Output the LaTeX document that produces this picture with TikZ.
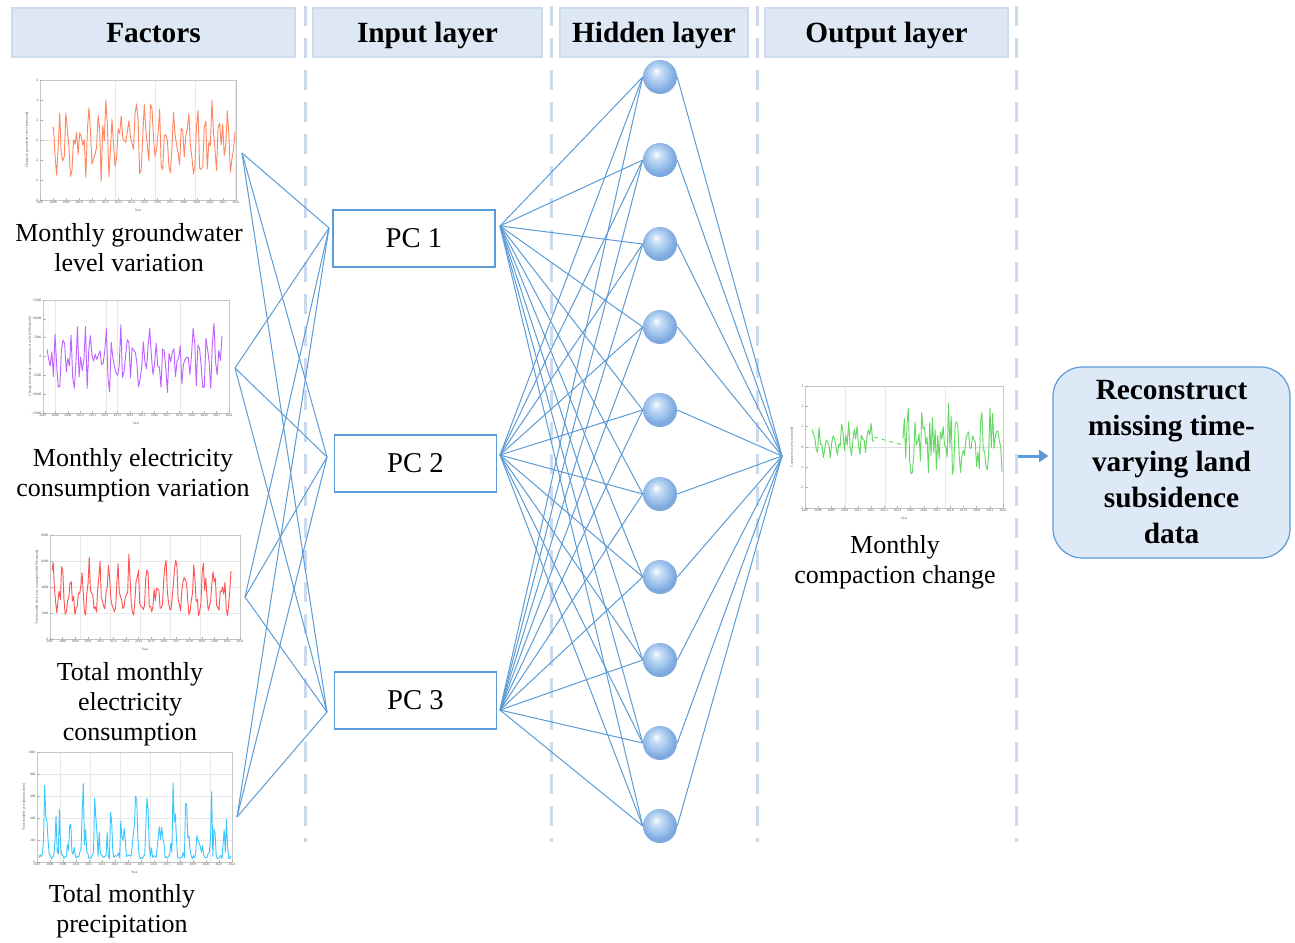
\documentclass[tikz,border=0pt]{standalone}
\usepackage{fontspec}
\setmainfont{Liberation Serif}
\usetikzlibrary{arrows.meta}
\pgfdeclarelayer{bg}
\pgfsetlayers{bg,main}
\definecolor{netblue}{RGB}{91,155,213}
\definecolor{hdrfill}{RGB}{222,232,245}
\definecolor{hdredge}{RGB}{205,219,238}
\definecolor{dashc}{RGB}{205,218,238}
\definecolor{boxfill}{RGB}{221,233,247}
\definecolor{sphA}{RGB}{205,225,247}
\definecolor{sphB}{RGB}{160,196,236}
\definecolor{sphC}{RGB}{125,168,222}
\definecolor{cA}{RGB}{255,135,100}
\definecolor{cB}{RGB}{190,100,255}
\definecolor{cC}{RGB}{255,85,85}
\definecolor{cD}{RGB}{60,200,255}
\definecolor{cE}{RGB}{100,215,100}
\pgfdeclareradialshading{sphere}{\pgfqpoint{-6bp}{9bp}}{color(0bp)=(white); color(6bp)=(sphA); color(16bp)=(sphB); color(25bp)=(sphC); color(50bp)=(sphC)}
\tikzset{
  net/.style={draw=netblue, line width=0.75pt},
  hdr/.style={fill=hdrfill, draw=hdredge, line width=0.8pt, inner sep=0pt,
    text height=17pt, text depth=2pt,
    font=\fontsize{22}{26}\selectfont\bfseries},
  pcbox/.style={draw=netblue, line width=0.9pt, fill=white, inner sep=0pt,
    minimum width=121.5pt, minimum height=42.75pt, font=\fontsize{21.5}{25}\selectfont},
  hid/.style={circle, minimum size=25.5pt, inner sep=0pt, shading=sphere},
  lab/.style={align=center, font=\fontsize{19.5}{22.5}\selectfont},
  ticklab/.style={inner sep=0.3pt, text=gray!60!black, font=\fontsize{2.6}{3}\selectfont},
  vdash/.style={draw=dashc, line width=2.25pt, dash pattern=on 15pt off 9pt},
  final/.style={draw=netblue, line width=0.9pt, fill=boxfill, rounded corners=22pt,
    minimum width=177.75pt, minimum height=143.25pt, align=center,
    font=\fontsize{22}{27}\selectfont\bfseries},
}
\newcommand\minichart[8]{%
  \draw[gray!45, line width=0.4pt] (#2,#3) rectangle (#4,#5);
  \foreach \lab [count=\i] in {#6}{%
    \pgfmathsetmacro\yy{#3+(\i-1)*(#5-#3)/(#7-1)}
    \draw[gray!60, line width=0.3pt] (#2,\yy) -- ++(2.5,0);
    \node[ticklab, anchor=east] (#1y\i) at (#2-1,\yy) {\lab};
  }
  \foreach \yr [count=\i from 0] in {2007,...,2022}{%
    \pgfmathsetmacro\xx{#2+\i*(#4-#2)/15}
    \draw[gray!60, line width=0.3pt] (\xx,#5) -- ++(0,-2.5);
    \node[ticklab, anchor=north] (#1x\i) at (\xx,#5+1) {\yr};
  }
  \node[ticklab] (#1xt) at ({(#2+#4)/2},#5+10) {Year};
  \node[ticklab, rotate=90] (#1yt) at (#2-13,{(#3+#5)/2}) {#8};
}
\begin{document}
\begin{tikzpicture}[x=0.75pt, y=-0.75pt]
\useasboundingbox (0,0) rectangle (1295,942);
\pgfmathsetseed{7}

% headers
\node[hdr, minimum width=212.25pt, minimum height=36.75pt] (h1) at (153.5,32.5) {Factors};
\node[hdr, minimum width=171.75pt, minimum height=36.75pt] (h2) at (427.5,32.5) {Input layer};
\node[hdr, minimum width=141pt, minimum height=36.75pt] (h3) at (654,32.5) {Hidden layer};
\node[hdr, minimum width=182.25pt, minimum height=36.75pt] (h4) at (886.5,32.5) {Output layer};

\begin{pgfonlayer}{bg}
\foreach \xv [count=\i] in {305,551,757,1016}{
  \coordinate (dt\i) at (\xv,6);
  \coordinate (db\i) at (\xv,842);
  \draw[vdash] (dt\i) -- (db\i);
}
\end{pgfonlayer}

% ---- charts ----
% chart 1
\foreach \g in {80,120,160,200}{\draw[gray!18, line width=0.4pt] (\g+35,80) -- (\g+35,200);}
\draw[gray!25, line width=0.4pt] (40,140) -- (236,140);
\minichart{ca}{40}{80}{236}{200}{6,4,2,0,-2,-4,-6}{7}{Change in groundwater level (m/month)}
\draw[cA, line width=0.7pt, line join=round] plot[domain=52:235, samples=120] (\x,{140+18*sin(\x*47)+24*rand});
% chart 2
\foreach \g in {165,318,352,540}{\draw[gray!18, line width=0.4pt] (\g/3,300) -- (\g/3,413);}
\minichart{cb}{43}{300}{229}{413}{15000,10000,5000,0,-5000,-10000,-15000}{7}{Change in electricity consumption of wells (kWh/month)}
\draw[cB, line width=0.7pt, line join=round] plot[domain=47:222, samples=110] (\x,{358+14*sin(\x*50)+22*rand});
% chart 3
\foreach \g in {80,110,140,170,200}{\draw[gray!18, line width=0.4pt] (\g,535) -- (\g,639);}
\foreach \g in {561,587,613}{\draw[gray!18, line width=0.4pt] (50,\g) -- (240,\g);}
\minichart{cc}{50}{535}{240}{639}{8000,6000,4000,2000,0}{5}{Total monthly electricity consumption (MWh/month)}
\draw[cC, line width=0.7pt, line join=round] plot[domain=52:231, samples=150] (\x,{618-12*rnd-60*abs(sin(\x*19))^2*(0.25+0.75*rnd)});
% chart 4
\foreach \g in {60,90,120,150,180,210}{\draw[gray!18, line width=0.4pt] (\g,752) -- (\g,862);}
\foreach \g in {774,796,818,840}{\draw[gray!18, line width=0.4pt] (37,\g) -- (232,\g);}
\minichart{cd}{37}{752}{232}{862}{1000,800,600,400,200,0}{6}{Total monthly precipitation (mm)}
\draw[cD, line width=0.7pt, line join=round] plot[domain=39:231, samples=170] (\x,{859-4*rnd-92*abs(sin(\x*14))^5*rnd^1.5});
% output chart
\foreach \g in {845,885,945}{\draw[gray!18, line width=0.4pt] (\g,386) -- (\g,508);}
\draw[gray!25, line width=0.4pt] (805,447) -- (1003,447);
\minichart{ce}{805}{386}{1003}{508}{3,2,1,0,-1,-2,-3}{7}{Compaction rate (cm/month)}
\draw[cE, line width=0.7pt, line join=round] plot[domain=812:874, samples=45] (\x,{440+8*sin((\x-800)*50)+12*rand});
\draw[cE, line width=0.7pt, dashed] (874,437) -- (903,445);
\draw[cE, line width=0.7pt, line join=round] plot[domain=903:1002, samples=75] (\x,{440+12*sin((\x-800)*43)+28*rand});

% ---- labels ----
\node[lab] (l1) at (129,248) {Monthly groundwater\\level variation};
\node[lab] (l2) at (133,475) {Monthly electricity\\consumption variation};
\node[lab] (l3) at (130,704) {Total monthly\\electricity\\consumption};
\node[lab] (l4) at (122,911) {Total monthly\\precipitation};
\node[lab] (l5) at (895,562) {Monthly\\compaction change};

% ---- connection points ----
\coordinate (f1) at (242,153);
\coordinate (f2) at (235,368);
\coordinate (f3) at (245,597);
\coordinate (f4) at (237,817);
\coordinate (pin1) at (329,228);
\coordinate (pin2) at (327,457);
\coordinate (pin3) at (327,712);
\coordinate (pout1) at (500,226);
\coordinate (pout2) at (500,455);
\coordinate (pout3) at (500,710);
\coordinate (oin) at (782,456);
\coordinate (oout) at (1018,456);

% ---- PC boxes ----
\node[pcbox] (pc1) at (414,238.5) {PC 1};
\node[pcbox] (pc2) at (415.5,463.5) {PC 2};
\node[pcbox] (pc3) at (415.5,700.5) {PC 3};

% ---- hidden nodes ----
\foreach \yv [count=\k] in {77,160,244,327,410,494,577,660,743,826}{
  \node[hid] (hn\k) at (660,\yv) {};
}

% ---- connectors ----
\begin{pgfonlayer}{bg}
\foreach \i in {1,...,4}{\foreach \j in {1,2,3}{\draw[net] (f\i) -- (pin\j);}}
\foreach \j in {1,2,3}{\foreach \k in {1,...,10}{\draw[net] (pout\j) -- (hn\k.west);}}
\foreach \k in {1,...,10}{\draw[net] (hn\k.east) -- (oin);}
\end{pgfonlayer}

% ---- final box ----
\node[final] (rec) at (1171.5,462.5) {Reconstruct\\missing time-\\varying land\\subsidence\\data};
\draw[-{Triangle[length=7pt,width=9pt]}, draw=netblue, fill=netblue, line width=2.25pt, shorten >=3pt] (oout) -- (oout -| rec.west);
\end{tikzpicture}
\end{document}
